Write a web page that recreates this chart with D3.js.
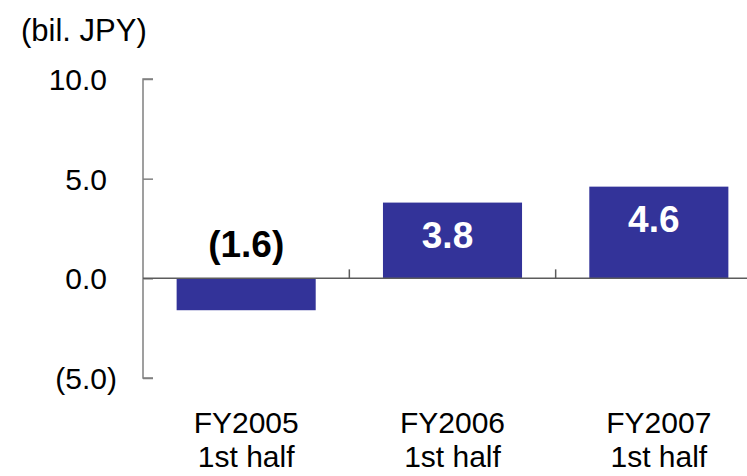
<!DOCTYPE html>
<html>
<head>
<meta charset="utf-8">
<script src="https://cdn.jsdelivr.net/npm/d3@7"></script>
<style>
  html, body { margin: 0; padding: 0; background: #fff; }
  svg { display: block; font-family: "Liberation Sans", Arial, sans-serif; }
</style>
</head>
<body>
<svg id="chart" width="747" height="476"></svg>
<script>
// Operating income by half-year period (bil. JPY)
const categories = ["FY2005|1st half", "FY2006|1st half", "FY2007|1st half"];
const values = [-1.6, 3.8, 4.6];
const yTicks = [-5, 0, 5, 10];
const unitLabel = "(bil. JPY)";

const svg = d3.select("#chart");
const W = 747, H = 476;

const x = d3.scaleBand()
  .domain(categories)
  .range([143, 762])
  .paddingInner(0.326)
  .paddingOuter(0.163);

const y = d3.scaleLinear().domain([-5, 10]).range([378, 79]);

// accounting-style number format: negatives in parentheses
const fmt = v => v < 0 ? `(${d3.format(".1f")(-v)})` : d3.format(".1f")(v);

// y axis
const yAxis = d3.axisRight(y)
  .tickValues(yTicks)
  .tickSize(10)
  .tickFormat(fmt);

const gy = svg.append("g")
  .attr("transform", "translate(143,0)")
  .call(yAxis);
gy.select(".domain")
  .attr("stroke", "#808080")
  .attr("stroke-width", 1.5)
  .attr("d", `M10,${y(10)}H0V${y(-5)}H10`);
gy.selectAll(".tick line").attr("stroke", "#808080").attr("stroke-width", 1.5);
gy.selectAll(".tick text")
  .attr("x", -26)
  .attr("dy", "0.35em")
  .attr("text-anchor", "end")
  .attr("fill", "#000")
  .style("font-size", "30px")
  .attr("dx", d => d < 0 ? 0 : "-0.333em");

// unit label
svg.append("text")
  .attr("x", 21)
  .attr("y", 41)
  .style("font-size", "31px")
  .attr("fill", "#000")
  .text(unitLabel);

// bars
svg.append("g")
  .selectAll("rect")
  .data(values)
  .join("rect")
  .attr("x", (d, i) => x(categories[i]))
  .attr("width", x.bandwidth())
  .attr("y", d => y(Math.max(0, d)))
  .attr("height", d => Math.abs(y(d) - y(0)))
  .attr("fill", "#333399");

// zero line with category separators
const gx = svg.append("g").attr("transform", `translate(0,${y(0)})`);
gx.append("line")
  .attr("x1", 143).attr("x2", W)
  .attr("stroke", "#5c5c5c").attr("stroke-width", 1.5);
const step = x.step();
gx.selectAll("line.sep")
  .data(categories.slice(1))
  .join("line")
  .attr("class", "sep")
  .attr("x1", d => x(d) - (step - x.bandwidth()) / 2)
  .attr("x2", d => x(d) - (step - x.bandwidth()) / 2)
  .attr("y1", 0).attr("y2", -9)
  .attr("stroke", "#5c5c5c").attr("stroke-width", 1.5);

// value labels
svg.append("g")
  .selectAll("text")
  .data(values)
  .join("text")
  .attr("x", (d, i) => x(categories[i]) + x.bandwidth() / 2 + (d < 0 ? 0 : -5))
  .attr("y", d => d < 0 ? y(0) - 21 : y(d) + 45)
  .attr("text-anchor", "middle")
  .style("font-size", "37px")
  .style("font-weight", "bold")
  .attr("fill", d => d < 0 ? "#000" : "#fff")
  .text(fmt);

// category labels (two lines each)
const cl = svg.append("g")
  .selectAll("text")
  .data(categories)
  .join("text")
  .attr("x", d => x(d) + x.bandwidth() / 2)
  .attr("y", 433)
  .attr("text-anchor", "middle")
  .style("font-size", "30px")
  .attr("fill", "#000");
cl.selectAll("tspan")
  .data(d => d.split("|"))
  .join("tspan")
  .attr("x", function () { return d3.select(this.parentNode).attr("x"); })
  .attr("dy", (d, i) => i === 0 ? 0 : 34)
  .text(d => d);
</script>
</body>
</html>
